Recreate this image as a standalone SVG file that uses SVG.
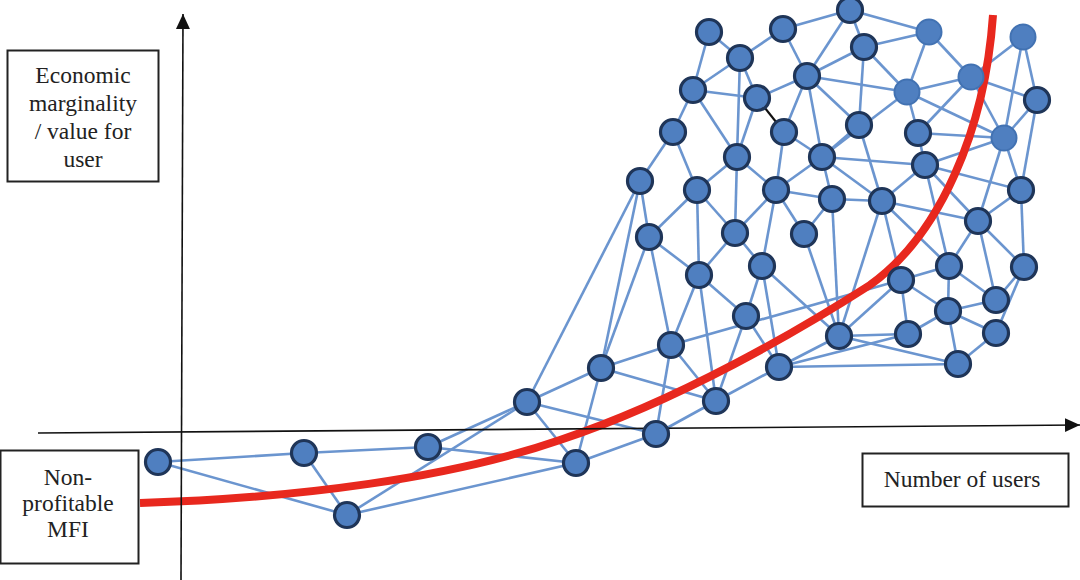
<svg xmlns="http://www.w3.org/2000/svg" width="1080" height="580" viewBox="0 0 1080 580">
<style>
.e{stroke:#6b95cf;stroke-width:2.6;fill:none}
.n{fill:#4f7fc0;stroke:#1f3558;stroke-width:3.2}
.nl{fill:#4f7fc0;stroke:#4272b2;stroke-width:2}
.box{fill:#fff;stroke:#222;stroke-width:2}
.t{font-size:23.5px;fill:#222;text-anchor:middle}
.ax{stroke:#111;stroke-width:1.6;fill:none}
</style>
<defs>
<marker id="arr" markerUnits="userSpaceOnUse" markerWidth="16" markerHeight="16" viewBox="0 0 16 16" refX="15" refY="8" orient="auto">
<path d="M0,1 L15,8 L0,15 Z" fill="#111"/>
</marker>
</defs>
<rect width="1080" height="580" fill="#fff"/>
<g id="connectors">
<line class="e" x1="158" y1="462" x2="304" y2="453"/>
<line class="e" x1="158" y1="462" x2="347" y2="515"/>
<line class="e" x1="304" y1="453" x2="347" y2="515"/>
<line class="e" x1="304" y1="453" x2="428" y2="447"/>
<line class="e" x1="428" y1="447" x2="527" y2="402"/>
<line class="e" x1="428" y1="447" x2="576" y2="463"/>
<line class="e" x1="347" y1="515" x2="527" y2="402"/>
<line class="e" x1="347" y1="515" x2="576" y2="463"/>
<line class="e" x1="527" y1="402" x2="640" y2="181"/>
<line class="e" x1="527" y1="402" x2="601" y2="368"/>
<line class="e" x1="527" y1="402" x2="656" y2="434"/>
<line class="e" x1="527" y1="402" x2="576" y2="463"/>
<line class="e" x1="601" y1="368" x2="640" y2="181"/>
<line class="e" x1="601" y1="368" x2="649" y2="237"/>
<line class="e" x1="601" y1="368" x2="671" y2="345"/>
<line class="e" x1="601" y1="368" x2="716" y2="401"/>
<line class="e" x1="601" y1="368" x2="576" y2="463"/>
<line class="e" x1="576" y1="463" x2="656" y2="434"/>
<line class="e" x1="656" y1="434" x2="671" y2="345"/>
<line class="e" x1="656" y1="434" x2="716" y2="401"/>
<line class="e" x1="671" y1="345" x2="699" y2="275"/>
<line class="e" x1="671" y1="345" x2="649" y2="237"/>
<line class="e" x1="671" y1="345" x2="716" y2="401"/>
<line class="e" x1="671" y1="345" x2="901" y2="280"/>
<line class="e" x1="716" y1="401" x2="699" y2="275"/>
<line class="e" x1="716" y1="401" x2="746" y2="316"/>
<line class="e" x1="716" y1="401" x2="779" y2="367"/>
<line class="e" x1="746" y1="316" x2="699" y2="275"/>
<line class="e" x1="746" y1="316" x2="762" y2="266"/>
<line class="e" x1="746" y1="316" x2="779" y2="367"/>
<line class="e" x1="779" y1="367" x2="839" y2="336"/>
<line class="e" x1="779" y1="367" x2="958" y2="364"/>
<line class="e" x1="779" y1="367" x2="762" y2="266"/>
<line class="e" x1="779" y1="367" x2="908" y2="334"/>
<line class="e" x1="839" y1="336" x2="882" y2="201"/>
<line class="e" x1="839" y1="336" x2="832" y2="199"/>
<line class="e" x1="839" y1="336" x2="901" y2="280"/>
<line class="e" x1="839" y1="336" x2="908" y2="334"/>
<line class="e" x1="839" y1="336" x2="958" y2="364"/>
<line class="e" x1="839" y1="336" x2="762" y2="266"/>
<line class="e" x1="839" y1="336" x2="804" y2="234"/>
<line class="e" x1="908" y1="334" x2="901" y2="280"/>
<line class="e" x1="908" y1="334" x2="948" y2="311"/>
<line class="e" x1="958" y1="364" x2="948" y2="311"/>
<line class="e" x1="958" y1="364" x2="996" y2="333"/>
<line class="e" x1="996" y1="333" x2="948" y2="311"/>
<line class="e" x1="996" y1="333" x2="1024" y2="267"/>
<line class="e" x1="948" y1="311" x2="901" y2="280"/>
<line class="e" x1="948" y1="311" x2="996" y2="300"/>
<line class="e" x1="948" y1="311" x2="949" y2="266"/>
<line class="e" x1="996" y1="300" x2="978" y2="221"/>
<line class="e" x1="996" y1="300" x2="949" y2="266"/>
<line class="e" x1="996" y1="300" x2="1024" y2="267"/>
<line class="e" x1="901" y1="280" x2="882" y2="201"/>
<line class="e" x1="901" y1="280" x2="949" y2="266"/>
<line class="e" x1="949" y1="266" x2="925" y2="165"/>
<line class="e" x1="949" y1="266" x2="978" y2="221"/>
<line class="e" x1="949" y1="266" x2="882" y2="201"/>
<line class="e" x1="1024" y1="267" x2="1021" y2="190"/>
<line class="e" x1="1024" y1="267" x2="978" y2="221"/>
<line class="e" x1="978" y1="221" x2="882" y2="201"/>
<line class="e" x1="978" y1="221" x2="925" y2="165"/>
<line class="e" x1="978" y1="221" x2="1021" y2="190"/>
<line class="e" x1="978" y1="221" x2="1004" y2="138"/>
<line class="e" x1="1021" y1="190" x2="925" y2="165"/>
<line class="e" x1="1021" y1="190" x2="1037" y2="100"/>
<line class="e" x1="1021" y1="190" x2="1004" y2="138"/>
<line class="e" x1="925" y1="165" x2="918" y2="133"/>
<line class="e" x1="925" y1="165" x2="1004" y2="138"/>
<line class="e" x1="925" y1="165" x2="822" y2="157"/>
<line class="e" x1="925" y1="165" x2="882" y2="201"/>
<line class="e" x1="882" y1="201" x2="822" y2="157"/>
<line class="e" x1="882" y1="201" x2="832" y2="199"/>
<line class="e" x1="882" y1="201" x2="859" y2="125"/>
<line class="e" x1="832" y1="199" x2="822" y2="157"/>
<line class="e" x1="832" y1="199" x2="776" y2="190"/>
<line class="e" x1="832" y1="199" x2="804" y2="234"/>
<line class="e" x1="804" y1="234" x2="776" y2="190"/>
<line class="e" x1="762" y1="266" x2="776" y2="190"/>
<line class="e" x1="762" y1="266" x2="735" y2="233"/>
<line class="e" x1="735" y1="233" x2="737" y2="157"/>
<line class="e" x1="735" y1="233" x2="697" y2="190"/>
<line class="e" x1="735" y1="233" x2="776" y2="190"/>
<line class="e" x1="735" y1="233" x2="699" y2="275"/>
<line class="e" x1="699" y1="275" x2="697" y2="190"/>
<line class="e" x1="699" y1="275" x2="649" y2="237"/>
<line class="e" x1="649" y1="237" x2="697" y2="190"/>
<line class="e" x1="649" y1="237" x2="640" y2="181"/>
<line class="e" x1="640" y1="181" x2="673" y2="132"/>
<line class="e" x1="697" y1="190" x2="673" y2="132"/>
<line class="e" x1="697" y1="190" x2="737" y2="157"/>
<line class="e" x1="776" y1="190" x2="784" y2="132"/>
<line class="e" x1="776" y1="190" x2="737" y2="157"/>
<line class="e" x1="776" y1="190" x2="822" y2="157"/>
<line class="e" x1="737" y1="157" x2="740" y2="58"/>
<line class="e" x1="737" y1="157" x2="693" y2="90"/>
<line class="e" x1="737" y1="157" x2="757" y2="98"/>
<line class="e" x1="822" y1="157" x2="807" y2="76"/>
<line class="e" x1="822" y1="157" x2="784" y2="132"/>
<line class="e" x1="822" y1="157" x2="859" y2="125"/>
<line class="e" x1="822" y1="157" x2="907" y2="92"/>
<line class="e" x1="673" y1="132" x2="693" y2="90"/>
<line class="e" x1="693" y1="90" x2="709" y2="32"/>
<line class="e" x1="693" y1="90" x2="740" y2="58"/>
<line class="e" x1="693" y1="90" x2="757" y2="98"/>
<line class="e" x1="709" y1="32" x2="740" y2="58"/>
<line class="e" x1="740" y1="58" x2="783" y2="29"/>
<line class="e" x1="740" y1="58" x2="757" y2="98"/>
<line class="e" x1="757" y1="98" x2="807" y2="76"/>
<line class="e" x1="784" y1="132" x2="807" y2="76"/>
<line class="e" x1="783" y1="29" x2="850" y2="10"/>
<line class="e" x1="783" y1="29" x2="807" y2="76"/>
<line class="e" x1="850" y1="10" x2="807" y2="76"/>
<line class="e" x1="850" y1="10" x2="864" y2="47"/>
<line class="e" x1="850" y1="10" x2="929" y2="32"/>
<line class="e" x1="864" y1="47" x2="807" y2="76"/>
<line class="e" x1="864" y1="47" x2="907" y2="92"/>
<line class="e" x1="864" y1="47" x2="859" y2="125"/>
<line class="e" x1="864" y1="47" x2="929" y2="32"/>
<line class="e" x1="807" y1="76" x2="907" y2="92"/>
<line class="e" x1="807" y1="76" x2="859" y2="125"/>
<line class="e" x1="918" y1="133" x2="907" y2="92"/>
<line class="e" x1="918" y1="133" x2="971" y2="77"/>
<line class="e" x1="918" y1="133" x2="1004" y2="138"/>
<line class="e" x1="907" y1="92" x2="929" y2="32"/>
<line class="e" x1="907" y1="92" x2="971" y2="77"/>
<line class="e" x1="907" y1="92" x2="1004" y2="138"/>
<line class="e" x1="929" y1="32" x2="971" y2="77"/>
<line class="e" x1="971" y1="77" x2="1023" y2="37"/>
<line class="e" x1="971" y1="77" x2="1037" y2="100"/>
<line class="e" x1="971" y1="77" x2="1004" y2="138"/>
<line class="e" x1="1023" y1="37" x2="1037" y2="100"/>
<line class="e" x1="1023" y1="37" x2="1004" y2="138"/>
<line class="e" x1="1037" y1="100" x2="1004" y2="138"/>
<line x1="757" y1="98" x2="784" y2="132" stroke="#111" stroke-width="2.2"/>
</g>
<path id="curve" d="M140,503 C300,498 450,478 560,440 C680,400 800,330 870,285 C940,235 985,130 993,15" stroke="#e8281e" stroke-width="8" fill="none"/>
<g id="axes">
<line class="ax" x1="181" y1="580" x2="183" y2="14" marker-end="url(#arr)"/>
<line class="ax" x1="38" y1="433" x2="1080" y2="425" marker-end="url(#arr)"/>
</g>
<g id="nodes">
<g id="n-A"><circle class="n" cx="158" cy="462" r="12.5"/></g>
<g id="n-B"><circle class="n" cx="304" cy="453" r="12.5"/></g>
<g id="n-C"><circle class="n" cx="428" cy="447" r="12.5"/></g>
<g id="n-D"><circle class="n" cx="347" cy="515" r="12.5"/></g>
<g id="n-E"><circle class="n" cx="527" cy="402" r="12.5"/></g>
<g id="n-F"><circle class="n" cx="576" cy="463" r="12.5"/></g>
<g id="n-G"><circle class="n" cx="656" cy="434" r="12.5"/></g>
<g id="n-H"><circle class="n" cx="601" cy="368" r="12.5"/></g>
<g id="n-I"><circle class="n" cx="716" cy="401" r="12.5"/></g>
<g id="n-J"><circle class="n" cx="671" cy="345" r="12.5"/></g>
<g id="n-K"><circle class="n" cx="746" cy="316" r="12.5"/></g>
<g id="n-L"><circle class="n" cx="779" cy="367" r="12.5"/></g>
<g id="n-M"><circle class="n" cx="839" cy="336" r="12.5"/></g>
<g id="n-N"><circle class="n" cx="908" cy="334" r="12.5"/></g>
<g id="n-O"><circle class="n" cx="958" cy="364" r="12.5"/></g>
<g id="n-P"><circle class="n" cx="996" cy="333" r="12.5"/></g>
<g id="n-Q"><circle class="n" cx="948" cy="311" r="12.5"/></g>
<g id="n-R"><circle class="n" cx="996" cy="300" r="12.5"/></g>
<g id="n-S"><circle class="n" cx="901" cy="280" r="12.5"/></g>
<g id="n-T"><circle class="n" cx="949" cy="266" r="12.5"/></g>
<g id="n-U"><circle class="n" cx="1024" cy="267" r="12.5"/></g>
<g id="n-V"><circle class="n" cx="978" cy="221" r="12.5"/></g>
<g id="n-W"><circle class="n" cx="1021" cy="190" r="12.5"/></g>
<g id="n-X"><circle class="n" cx="925" cy="165" r="12.5"/></g>
<g id="n-Y"><circle class="n" cx="882" cy="201" r="12.5"/></g>
<g id="n-Z"><circle class="n" cx="832" cy="199" r="12.5"/></g>
<g id="n-a"><circle class="n" cx="804" cy="234" r="12.5"/></g>
<g id="n-b"><circle class="n" cx="762" cy="266" r="12.5"/></g>
<g id="n-c"><circle class="n" cx="699" cy="275" r="12.5"/></g>
<g id="n-d"><circle class="n" cx="649" cy="237" r="12.5"/></g>
<g id="n-e"><circle class="n" cx="640" cy="181" r="12.5"/></g>
<g id="n-f"><circle class="n" cx="697" cy="190" r="12.5"/></g>
<g id="n-g"><circle class="n" cx="735" cy="233" r="12.5"/></g>
<g id="n-h"><circle class="n" cx="776" cy="190" r="12.5"/></g>
<g id="n-i"><circle class="n" cx="737" cy="157" r="12.5"/></g>
<g id="n-j"><circle class="n" cx="822" cy="157" r="12.5"/></g>
<g id="n-k"><circle class="n" cx="673" cy="132" r="12.5"/></g>
<g id="n-l"><circle class="n" cx="693" cy="90" r="12.5"/></g>
<g id="n-m"><circle class="n" cx="709" cy="32" r="12.5"/></g>
<g id="n-n"><circle class="n" cx="740" cy="58" r="12.5"/></g>
<g id="n-o"><circle class="n" cx="757" cy="98" r="12.5"/></g>
<g id="n-p"><circle class="n" cx="784" cy="132" r="12.5"/></g>
<g id="n-q"><circle class="n" cx="783" cy="29" r="12.5"/></g>
<g id="n-r"><circle class="n" cx="850" cy="10" r="12.5"/></g>
<g id="n-s"><circle class="n" cx="864" cy="47" r="12.5"/></g>
<g id="n-t"><circle class="n" cx="807" cy="76" r="12.5"/></g>
<g id="n-u"><circle class="n" cx="859" cy="125" r="12.5"/></g>
<g id="n-v"><circle class="n" cx="918" cy="133" r="12.5"/></g>
<g id="n-w"><circle class="nl" cx="907" cy="92" r="12.5"/></g>
<g id="n-x"><circle class="nl" cx="929" cy="32" r="12.5"/></g>
<g id="n-y"><circle class="nl" cx="971" cy="77" r="12.5"/></g>
<g id="n-z"><circle class="nl" cx="1023" cy="37" r="12.5"/></g>
<g id="n-aa"><circle class="n" cx="1037" cy="100" r="12.5"/></g>
<g id="n-bb"><circle class="nl" cx="1004" cy="138" r="12.5"/></g>
</g>
<g id="box-value">
<rect class="box" x="7.5" y="50.5" width="151" height="131"/>
<text class="t" font-family="'Liberation Serif', serif" x="83" y="83">Economic</text>
<text class="t" font-family="'Liberation Serif', serif" x="83" y="111">marginality</text>
<text class="t" font-family="'Liberation Serif', serif" x="83" y="139">/ value for</text>
<text class="t" font-family="'Liberation Serif', serif" x="83" y="167">user</text>
</g>
<g id="box-mfi">
<rect class="box" x="0.5" y="450.5" width="138" height="113"/>
<text class="t" font-family="'Liberation Serif', serif" x="68" y="485">Non-</text>
<text class="t" font-family="'Liberation Serif', serif" x="68" y="511">profitable</text>
<text class="t" font-family="'Liberation Serif', serif" x="68" y="537">MFI</text>
</g>
<g id="box-users">
<rect class="box" x="862.5" y="453.5" width="206" height="53"/>
<text class="t" font-family="'Liberation Serif', serif" x="962" y="487">Number of users</text>
</g>
</svg>
